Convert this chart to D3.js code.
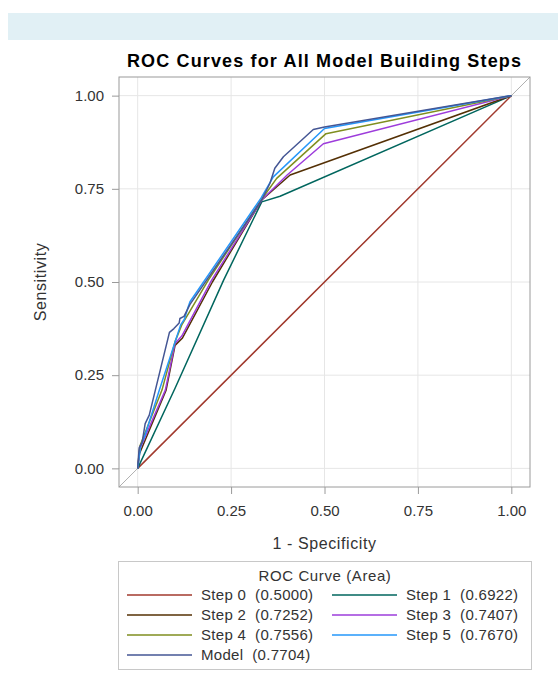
<!DOCTYPE html>
<html>
<head>
<meta charset="utf-8">
<script src="https://cdn.jsdelivr.net/npm/d3@7"></script>
<style>
  body { margin: 0; background: #fff; }
  svg text { font-family: Arial, "Liberation Sans", sans-serif; }
</style>
</head>
<body>
<div id="chart"></div>
<script>
// ROC curves, one array of [1 - specificity, sensitivity] per step
const step0 = [[0, 0], [1, 1]];
const step1 = [[0, 0], [0.1, 0.215], [0.23, 0.505], [0.332, 0.715], [0.381, 0.73], [1, 1]];
const step2 = [[0, 0], [0.005, 0.04], [0.076, 0.21], [0.1, 0.33], [0.12, 0.35], [0.2, 0.5],
               [0.332, 0.72], [0.408, 0.787], [1, 1]];
const step3 = [[0, 0], [0.005, 0.05], [0.074, 0.21], [0.1, 0.335], [0.118, 0.355], [0.198, 0.505],
               [0.332, 0.72], [0.4, 0.787], [0.497, 0.871], [1, 1]];
const step4 = [[0, 0], [0.006, 0.06], [0.065, 0.21], [0.1, 0.34], [0.118, 0.385], [0.189, 0.505],
               [0.332, 0.722], [0.372, 0.778], [0.504, 0.898], [1, 1]];
const step5 = [[0, 0], [0.008, 0.06], [0.02, 0.09], [0.058, 0.21], [0.115, 0.385], [0.125, 0.4],
               [0.135, 0.433], [0.14, 0.447], [0.33, 0.725], [0.363, 0.782], [0.5, 0.912], [1, 1]];
const model = [[0, 0], [0.004, 0.055], [0.012, 0.07], [0.02, 0.12], [0.031, 0.143], [0.085, 0.365],
               [0.097, 0.375], [0.111, 0.39], [0.113, 0.402], [0.124, 0.408], [0.14, 0.44],
               [0.332, 0.72], [0.354, 0.765], [0.367, 0.805], [0.39, 0.836], [0.47, 0.909],
               [0.5, 0.916], [1, 1]];

const seriesNames = ["Step 0", "Step 1", "Step 2", "Step 3", "Step 4", "Step 5", "Model"];
const seriesAreas = ["0.5000", "0.6922", "0.7252", "0.7407", "0.7556", "0.7670", "0.7704"];
const seriesData = [step0, step1, step2, step3, step4, step5, model];
const seriesColors = ["#a23a2e", "#01665e", "#543005", "#9d3cdb", "#7f8e1f", "#2597fa", "#445694"];
const tickValues = [0, 0.25, 0.5, 0.75, 1];

const width = 558, height = 679;
const frame = { left: 119, right: 530, top: 77, bottom: 487 };

const svg = d3.select('#chart').append('svg')
    .attr('width', width)
    .attr('height', height);

// pale band at the top
svg.append('rect')
    .attr('x', 8).attr('y', 13)
    .attr('width', 550).attr('height', 27)
    .attr('fill', '#e1f0f5');

svg.append('text')
    .attr('x', (frame.left + frame.right) / 2)
    .attr('y', 67)
    .attr('text-anchor', 'middle')
    .attr('font-size', 18)
    .attr('font-weight', 'bold')
    .attr('letter-spacing', 1.15)
    .attr('fill', '#000')
    .text('ROC Curves for All Model Building Steps');

const x = d3.scaleLinear().domain([-0.05, 1.05]).range([frame.left, frame.right]);
const y = d3.scaleLinear().domain([-0.05, 1.05]).range([frame.bottom, frame.top]);

// grid
const grid = svg.append('g').attr('stroke', '#e6e6e6').attr('stroke-width', 1);
grid.selectAll('.gx').data(tickValues).join('line')
    .attr('x1', d => x(d)).attr('x2', d => x(d))
    .attr('y1', frame.top).attr('y2', frame.bottom);
grid.selectAll('.gy').data(tickValues).join('line')
    .attr('y1', d => y(d)).attr('y2', d => y(d))
    .attr('x1', frame.left).attr('x2', frame.right);

// diagonal reference
svg.append('line')
    .attr('x1', x(-0.05)).attr('y1', y(-0.05))
    .attr('x2', x(1.05)).attr('y2', y(1.05))
    .attr('stroke', '#b0b0b0').attr('stroke-width', 1);

// axes
const fmt = d3.format('.2f');
const xAxis = svg.append('g')
    .attr('transform', `translate(0,${frame.bottom})`)
    .call(d3.axisBottom(x).tickValues(tickValues).tickFormat(fmt).tickSize(7).tickPadding(11));
const yAxis = svg.append('g')
    .attr('transform', `translate(${frame.left},0)`)
    .call(d3.axisLeft(y).tickValues(tickValues).tickFormat(fmt).tickSize(7).tickPadding(8));

[xAxis, yAxis].forEach(a => {
    a.select('.domain').remove();
    a.selectAll('line').attr('stroke', '#9a9a9a');
    a.selectAll('text')
        .attr('font-size', 15)
        .attr('font-family', 'Arial, "Liberation Sans", sans-serif')
        .attr('fill', '#333');
});

svg.append('rect')
    .attr('x', frame.left).attr('y', frame.top)
    .attr('width', frame.right - frame.left).attr('height', frame.bottom - frame.top)
    .attr('fill', 'none').attr('stroke', '#9a9a9a').attr('stroke-width', 1);

svg.append('text')
    .attr('x', (frame.left + frame.right) / 2).attr('y', 549)
    .attr('text-anchor', 'middle').attr('font-size', 16).attr('letter-spacing', 0.6)
    .attr('fill', '#333')
    .text('1 - Specificity');

svg.append('text')
    .attr('transform', `translate(46,${(y(0) + y(1)) / 2}) rotate(-90)`)
    .attr('text-anchor', 'middle').attr('font-size', 16).attr('letter-spacing', 0.6)
    .attr('fill', '#333')
    .text('Sensitivity');

// curves
const line = d3.line().x(d => x(d[0])).y(d => y(d[1]));
svg.append('g').selectAll('path')
    .data(seriesData)
    .join('path')
    .attr('d', line)
    .attr('fill', 'none')
    .attr('stroke', (d, i) => seriesColors[i])
    .attr('stroke-width', 1.5)
    .attr('stroke-linejoin', 'round');

// legend
const legend = svg.append('g');
legend.append('rect')
    .attr('x', 118.5).attr('y', 561.5)
    .attr('width', 413).attr('height', 108)
    .attr('fill', 'none').attr('stroke', '#c8c8c8');
legend.append('text')
    .attr('x', 325).attr('y', 581)
    .attr('text-anchor', 'middle').attr('font-size', 15).attr('letter-spacing', 0.6)
    .attr('fill', '#333')
    .text('ROC Curve (Area)');

const items = legend.selectAll('.item')
    .data(seriesNames)
    .join('g')
    .attr('transform', (d, i) => `translate(${i % 2 ? 332 : 127},${600 + Math.floor(i / 2) * 20})`);
items.append('line')
    .attr('x1', 0).attr('x2', 65).attr('y1', -5).attr('y2', -5)
    .attr('stroke', (d, i) => seriesColors[i]).attr('stroke-width', 1.5);
items.append('text')
    .attr('x', 74).attr('y', 0)
    .attr('font-size', 15).attr('letter-spacing', 0.3)
    .attr('fill', '#333')
    .attr('xml:space', 'preserve')
    .style('white-space', 'pre')
    .text((d, i) => `${d}  (${seriesAreas[i]})`);
</script>
</body>
</html>
